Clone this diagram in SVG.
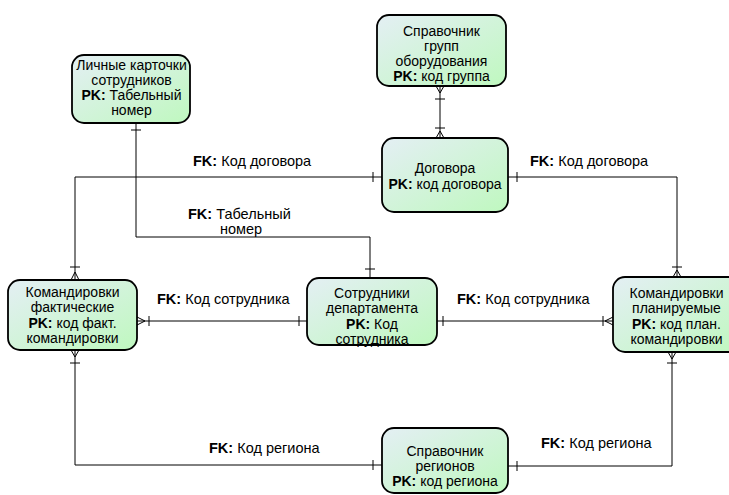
<svg xmlns="http://www.w3.org/2000/svg" width="729" height="495" viewBox="0 0 729 495">
<defs>
<linearGradient id="g" x1="0" y1="0" x2="1" y2="1">
<stop offset="0" stop-color="#e4eff4"/>
<stop offset="1" stop-color="#bff8bf"/>
</linearGradient>
<style>
.box{fill:url(#g);stroke:#000;stroke-width:1.8}
.t{font-family:"Liberation Sans",Arial,sans-serif;font-size:14px;fill:#000;text-anchor:middle}
.l{font-family:"Liberation Sans",Arial,sans-serif;font-size:14.5px;fill:#000}
.b{font-weight:bold}
.c{fill:none;stroke:#000;stroke-width:1}
</style>
</defs>
<rect width="729" height="495" fill="#fff"/>
<g id="connectors">
<path class="c" d="M440,86 V138"/>
<path class="c" d="M436,86 L440,93 L444,86 M435,99 H445 M435,128 H445 M436,138 L440,131 L444,138"/>
<path class="c" d="M136,123 V237 H370 V278"/>
<path class="c" d="M131,130 H141 M365,269 H375"/>
<path class="c" d="M382,177 H75 V280"/>
<path class="c" d="M373,172 V182 M70,267 H80 M71,280 L75,272 L79,280"/>
<path class="c" d="M508,177 H677 V277"/>
<path class="c" d="M517,172 V182 M672,267 H682 M673,277 L677,270 L681,277"/>
<path class="c" d="M137,321 H307"/>
<path class="c" d="M137,317 L145,321 L137,325 M149,316 V326 M299,316 V326"/>
<path class="c" d="M437,321 H613"/>
<path class="c" d="M443,316 V326 M603,316 V326 M613,317 L605,321 L613,325"/>
<path class="c" d="M75,350 V465 H382"/>
<path class="c" d="M71,350 L75,357 L79,350 M70,363 H80 M373,460 V470"/>
<path class="c" d="M672,352 V466 H508"/>
<path class="c" d="M668,352 L672,359 L676,352 M667,363 H677 M517,461 V471"/>
</g>
<g id="labels">
<text class="l" x="193" y="166"><tspan class="b">FK:</tspan> Код договора</text>
<text class="l" x="530" y="166"><tspan class="b">FK:</tspan> Код договора</text>
<text class="l" x="188" y="219"><tspan class="b">FK:</tspan> Табельный</text>
<text class="l" x="220" y="234">номер</text>
<text class="l" x="157" y="304"><tspan class="b">FK:</tspan> Код сотрудника</text>
<text class="l" x="457" y="304"><tspan class="b">FK:</tspan> Код сотрудника</text>
<text class="l" x="209" y="453"><tspan class="b">FK:</tspan> Код региона</text>
<text class="l" x="541" y="448"><tspan class="b">FK:</tspan> Код региона</text>
</g>
<g id="n-gruppy">
<rect class="box" x="377" y="15" width="129" height="71" rx="12"/>
<text class="t" x="441.5" y="36">Справочник</text>
<text class="t" x="441.5" y="51">групп</text>
<text class="t" x="441.5" y="66">оборудования</text>
<text class="t" x="441.5" y="81"><tspan class="b">PK:</tspan> код группа</text>
</g>
<g id="n-lichnye">
<rect class="box" x="72" y="55" width="118" height="68" rx="12"/>
<text class="t" x="131.5" y="70">Личные карточки</text>
<text class="t" x="131.5" y="85">сотрудников</text>
<text class="t" x="131.5" y="100"><tspan class="b">PK:</tspan> Табельный</text>
<text class="t" x="131.5" y="115">номер</text>
</g>
<g id="n-dogovora">
<rect class="box" x="382" y="138" width="126" height="74" rx="12"/>
<text class="t" x="445" y="173">Договора</text>
<text class="t" x="445" y="188.5"><tspan class="b">PK:</tspan> код договора</text>
</g>
<g id="n-komfakt">
<rect class="box" x="8" y="280" width="129" height="70" rx="12"/>
<text class="t" x="72.5" y="296.5">Командировки</text>
<text class="t" x="72.5" y="312">фактические</text>
<text class="t" x="72.5" y="327.5"><tspan class="b">PK:</tspan> код факт.</text>
<text class="t" x="72.5" y="343">командировки</text>
</g>
<g id="n-sotrudniki">
<rect class="box" x="307" y="278" width="130" height="67" rx="12"/>
<text class="t" x="372" y="297.5">Сотрудники</text>
<text class="t" x="372" y="313">департамента</text>
<text class="t" x="372" y="328.5"><tspan class="b">PK:</tspan> Код</text>
<text class="t" x="372" y="344">сотрудника</text>
</g>
<g id="n-komplan">
<rect class="box" x="613" y="277" width="128" height="75" rx="12"/>
<text class="t" x="676.5" y="297.5">Командировки</text>
<text class="t" x="676.5" y="313">планируемые</text>
<text class="t" x="676.5" y="328.5"><tspan class="b">PK:</tspan> код план.</text>
<text class="t" x="676.5" y="344">командировки</text>
</g>
<g id="n-regiony">
<rect class="box" x="382" y="428" width="126" height="65" rx="12"/>
<text class="t" x="445" y="455.5">Справочник</text>
<text class="t" x="445" y="470.5">регионов</text>
<text class="t" x="445" y="485.5"><tspan class="b">PK:</tspan> код региона</text>
</g>
</svg>
